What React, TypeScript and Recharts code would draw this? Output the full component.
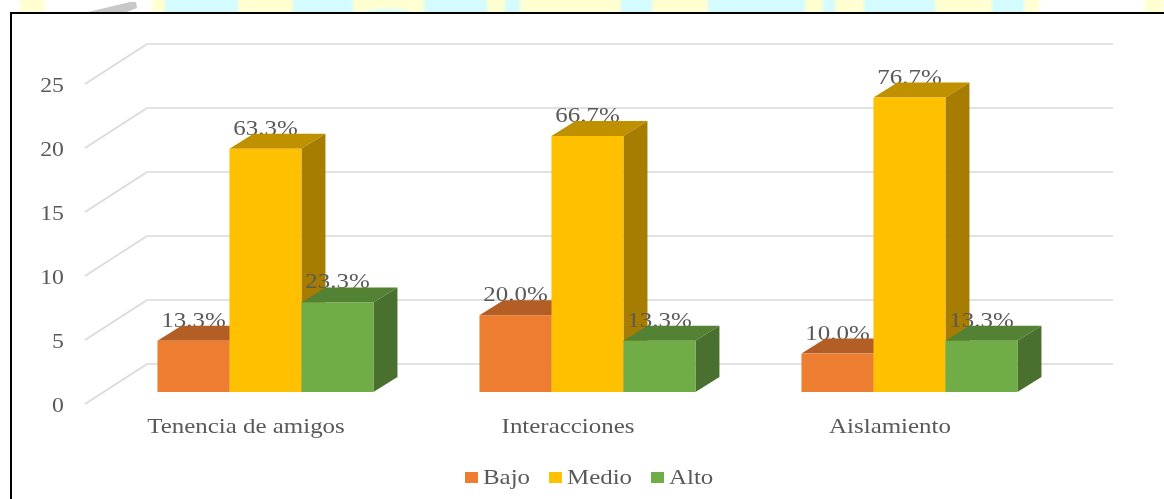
import { Bar, BarChart, CartesianGrid, Legend, XAxis, YAxis } from 'recharts';

const categories = ['Tenencia de amigos', 'Interacciones', 'Aislamiento'];
const bajo = [4, 6, 3];
const medio = [19, 20, 23];
const alto = [7, 4, 4];
const bajoPct = ['13.3%', '20.0%', '10.0%'];
const medioPct = ['63.3%', '66.7%', '76.7%'];
const altoPct = ['23.3%', '13.3%', '13.3%'];
const yTicks = [0, 5, 10, 15, 20, 25];

const data = categories.map((category, i) => ({
  category,
  bajo: bajo[i],
  medio: medio[i],
  alto: alto[i],
}));

const TEXT = '#595959';
const FONT = '"Liberation Serif", serif';
const STRETCH = 1.16;

// floor of the fake 3D box, and how far the bars sit in from its front edge
const FLOOR_DX = 62;
const FLOOR_DY = 40;
const BAR_DX = 19;
const BAR_DY = 12;
const DEPTH_DX = 24;
const DEPTH_DY = 15;

function WideText({ x, y, anchor = 'middle', size = 21.5, children }: any) {
  return (
    <text
      transform={`translate(${x},${y}) scale(${STRETCH},1)`}
      textAnchor={anchor}
      fontFamily={FONT}
      fontSize={size}
      fill={TEXT}
      style={{ filter: 'blur(0.35px)' }}
    >
      {children}
    </text>
  );
}

function Box3D({ x, y, width, height, fill, index, top, side, labels }: any) {
  const left = x + BAR_DX;
  const right = left + width;
  const upper = y - BAR_DY;
  const lower = upper + height;
  return (
    <g>
      <WideText x={left + width / 2} y={upper - 14}>
        {labels[index]}
      </WideText>
      <polygon
        points={`${left},${upper} ${left + DEPTH_DX},${upper - DEPTH_DY} ${right + DEPTH_DX},${upper - DEPTH_DY} ${right},${upper}`}
        fill={top}
      />
      <polygon
        points={`${right},${upper} ${right + DEPTH_DX},${upper - DEPTH_DY} ${right + DEPTH_DX},${lower - DEPTH_DY} ${right},${lower}`}
        fill={side}
      />
      <rect x={left} y={upper} width={width} height={height} fill={fill} />
    </g>
  );
}

function WallLine({ x1, y1, x2, y2 }: any) {
  return (
    <path
      key={`wall-${y1}`}
      d={`M${x1},${y1} L${x1 + FLOOR_DX},${y2 - FLOOR_DY} L${x2 + FLOOR_DX},${y2 - FLOOR_DY}`}
      fill="none"
      stroke="#D9D9D9"
      strokeWidth={1.6}
    />
  );
}

function XTick({ x, y, payload }: any) {
  return (
    <WideText x={x} y={y + 21}>
      {payload.value}
    </WideText>
  );
}

function YTick({ y, payload }: any) {
  return (
    <WideText x={64} y={y + 7.5} anchor="end" size={20.5}>
      {payload.value}
    </WideText>
  );
}

const legendOffsets = [0, 84, 186];

function LegendRow({ payload }: any) {
  return (
    <svg width={270} height={30} style={{ display: 'block', overflow: 'visible' }}>
      {(payload ?? []).map((item: any, i: number) => (
        <g key={item.value}>
          <rect x={legendOffsets[i]} y={7} width={13} height={11} fill={item.color} />
          <WideText x={legendOffsets[i] + 18} y={19} anchor="start">
            {item.value}
          </WideText>
        </g>
      ))}
    </svg>
  );
}

// the strip of the page's watermark showing above the chart frame
const YELLOW = '#FFFFD2';
const CYAN = '#D4FCFF';
const stripes: [number, number, string][] = [
  [20, 45, YELLOW],
  [152, 165, YELLOW],
  [165, 238, CYAN],
  [238, 293, YELLOW],
  [293, 353, CYAN],
  [353, 424, YELLOW],
  [424, 487, CYAN],
  [487, 505, YELLOW],
  [505, 520, CYAN],
  [520, 621, YELLOW],
  [621, 652, CYAN],
  [652, 708, YELLOW],
  [708, 805, CYAN],
  [805, 823, YELLOW],
  [823, 835, CYAN],
  [835, 864, YELLOW],
  [864, 935, CYAN],
  [935, 992, YELLOW],
  [992, 1024, CYAN],
  [1024, 1039, YELLOW],
  [1145, 1164, YELLOW],
];

function Backdrop() {
  return (
    <svg width={1164} height={14} style={{ position: 'absolute', left: 0, top: 0 }}>
      <g style={{ filter: 'blur(1.5px)' }}>
        {stripes.map(([from, to, colour]) => (
          <rect key={from} x={from} y={-4} width={to - from} height={20} fill={colour} />
        ))}
        <ellipse cx={388} cy={14} rx={24} ry={5} fill={CYAN} />
      </g>
      <polygon points="84,13 130,2 136,2 137,8 124,13" fill="#C8C8C8" />
    </svg>
  );
}

export default function App() {
  return (
    <div style={{ position: 'relative', width: 1164, height: 499, background: '#fff', overflow: 'hidden' }}>
      <style>{'body{margin:0}'}</style>
      <Backdrop />
      <div
        style={{
          position: 'absolute',
          left: 10,
          top: 12,
          width: 1160,
          height: 500,
          background: '#fff',
          borderLeft: '2px solid #000',
          borderTop: '2px solid #000',
        }}
      />
      <div style={{ position: 'absolute', left: 0, top: 0 }}>
        <BarChart
          width={1164}
          height={499}
          data={data}
          barCategoryGap="16.6%"
          barGap={0}
          margin={{ top: 84, right: 113, bottom: 65, left: 0 }}
        >
          <CartesianGrid vertical={false} horizontal={WallLine as any} />
          <XAxis
            dataKey="category"
            axisLine={false}
            tickLine={false}
            height={30}
            interval={0}
            tick={<XTick />}
          />
          <YAxis
            domain={[0, 25]}
            ticks={yTicks}
            width={85}
            axisLine={false}
            tickLine={false}
            tick={<YTick />}
          />
          <Legend
            content={<LegendRow />}
            itemSorter={null as any}
            wrapperStyle={{ left: 465, top: 465, width: 270, height: 0 }}
          />
          <Bar
            dataKey="bajo"
            name="Bajo"
            fill="#ED7D31"
            isAnimationActive={false}
            shape={(props: any) => <Box3D {...props} top="#B25E25" side="#9A5220" labels={bajoPct} />}
          />
          <Bar
            dataKey="medio"
            name="Medio"
            fill="#FFC000"
            isAnimationActive={false}
            shape={(props: any) => <Box3D {...props} top="#BF9000" side="#A67D00" labels={medioPct} />}
          />
          <Bar
            dataKey="alto"
            name="Alto"
            fill="#70AD47"
            isAnimationActive={false}
            shape={(props: any) => <Box3D {...props} top="#548235" side="#49702E" labels={altoPct} />}
          />
        </BarChart>
      </div>
    </div>
  );
}
